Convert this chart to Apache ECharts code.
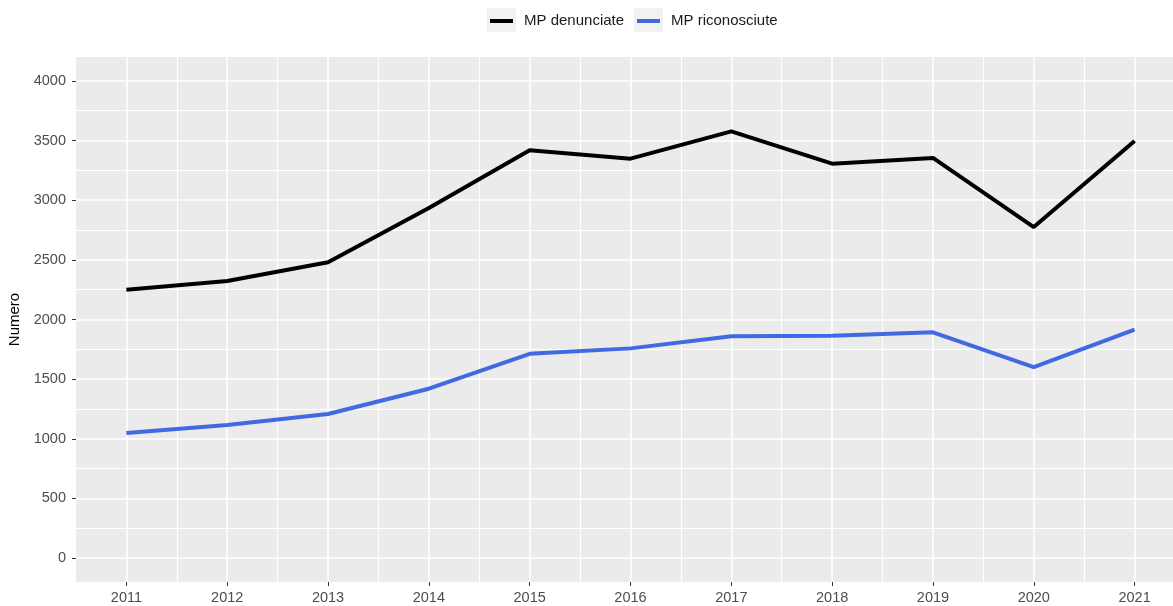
<!DOCTYPE html>
<html>
<head>
<meta charset="utf-8">
<script src="https://cdn.jsdelivr.net/npm/echarts@6/dist/echarts.min.js"></script>
<style>
  html, body { margin: 0; padding: 0; background: #fff; }
  #chart { width: 1173px; height: 606px; }
</style>
</head>
<body>
<div id="chart"></div>
<script>
// dati
const years = [2011, 2012, 2013, 2014, 2015, 2016, 2017, 2018, 2019, 2020, 2021]
const denunciate = [2250, 2322, 2480, 2935, 3418, 3348, 3577, 3306, 3354, 2775, 3496]
const riconosciute = [1049, 1115, 1208, 1420, 1712, 1758, 1860, 1863, 1893, 1600, 1916]

const yTicks = [0, 500, 1000, 1500, 2000, 2500, 3000, 3500, 4000]
const yMinor = [250, 750, 1250, 1750, 2250, 2750, 3250, 3750]
const xMinor = [2011.5, 2012.5, 2013.5, 2014.5, 2015.5, 2016.5, 2017.5, 2018.5, 2019.5, 2020.5]

const FONT = "'Liberation Sans', Arial, sans-serif"

const chart = echarts.init(document.getElementById('chart'))

const toPairs = vals => years.map((y, i) => [y, vals[i]])
const plain = v => String(v)

const majorLine = { show: true, lineStyle: { color: '#ffffff', width: 1.6 } }
const minorLine = { show: true, lineStyle: { color: '#ffffff', width: 1.1 } }

const legendBase = {
  top: 13,
  padding: 0,
  icon: 'rect',
  itemWidth: 23,
  itemHeight: 4,
  textStyle: { fontFamily: FONT, fontSize: 15, color: '#1a1a1a', lineHeight: 16, padding: [0, 0, 0, 6] }
}

chart.setOption({
  animation: false,
  backgroundColor: '#ffffff',
  graphic: [
    // sfondo grigio delle chiavi della legenda (stile ggplot)
    { type: 'rect', left: 487, top: 8, shape: { width: 29, height: 24 }, style: { fill: '#f2f2f2' }, z: -1 },
    { type: 'rect', left: 634, top: 8, shape: { width: 29, height: 24 }, style: { fill: '#f2f2f2' }, z: -1 }
  ],
  legend: [
    Object.assign({ left: 490, data: ['MP denunciate'] }, legendBase),
    Object.assign({ left: 637, data: ['MP riconosciute'] }, legendBase)
  ],
  grid: {
    left: 76, top: 57, width: 1109, height: 525,
    outerBoundsMode: 'none', containLabel: false,
    show: true, backgroundColor: '#ebebeb', borderWidth: 0
  },
  xAxis: [
    {
      type: 'value', min: 2010.5, max: 2021.5,
      axisLine: { show: false, onZero: false },
      axisTick: { show: true, length: 4, customValues: years, lineStyle: { color: '#333333' } },
      axisLabel: { customValues: years, formatter: plain, margin: 8, fontFamily: FONT, fontSize: 14.5, color: '#4d4d4d' },
      splitLine: majorLine
    },
    {
      type: 'value', min: 2010.5, max: 2021.5, position: 'bottom',
      axisLine: { show: false, onZero: false },
      axisTick: { show: false, customValues: xMinor },
      axisLabel: { show: false, customValues: xMinor },
      splitLine: minorLine
    }
  ],
  yAxis: [
    {
      type: 'value', min: -200, max: 4200,
      name: 'Numero', nameLocation: 'middle', nameGap: 51,
      nameTextStyle: { fontFamily: FONT, fontSize: 15, color: '#000000' },
      axisLine: { show: false, onZero: false },
      axisTick: { show: true, length: 4, customValues: yTicks, lineStyle: { color: '#333333' } },
      axisLabel: { customValues: yTicks, formatter: plain, margin: 10, fontFamily: FONT, fontSize: 14.5, color: '#4d4d4d' },
      splitLine: majorLine
    },
    {
      type: 'value', min: -200, max: 4200, position: 'left', offset: 0,
      axisLine: { show: false, onZero: false },
      axisTick: { show: false, customValues: yMinor },
      axisLabel: { show: false, customValues: yMinor },
      splitLine: minorLine
    }
  ],
  series: [
    {
      name: 'MP denunciate', type: 'line', data: toPairs(denunciate),
      showSymbol: false, symbol: 'none',
      lineStyle: { color: '#000000', width: 4 },
      itemStyle: { color: '#000000' }
    },
    {
      name: 'MP riconosciute', type: 'line', data: toPairs(riconosciute),
      showSymbol: false, symbol: 'none',
      lineStyle: { color: '#4169e1', width: 4 },
      itemStyle: { color: '#4169e1' }
    }
  ]
})
</script>
</body>
</html>
